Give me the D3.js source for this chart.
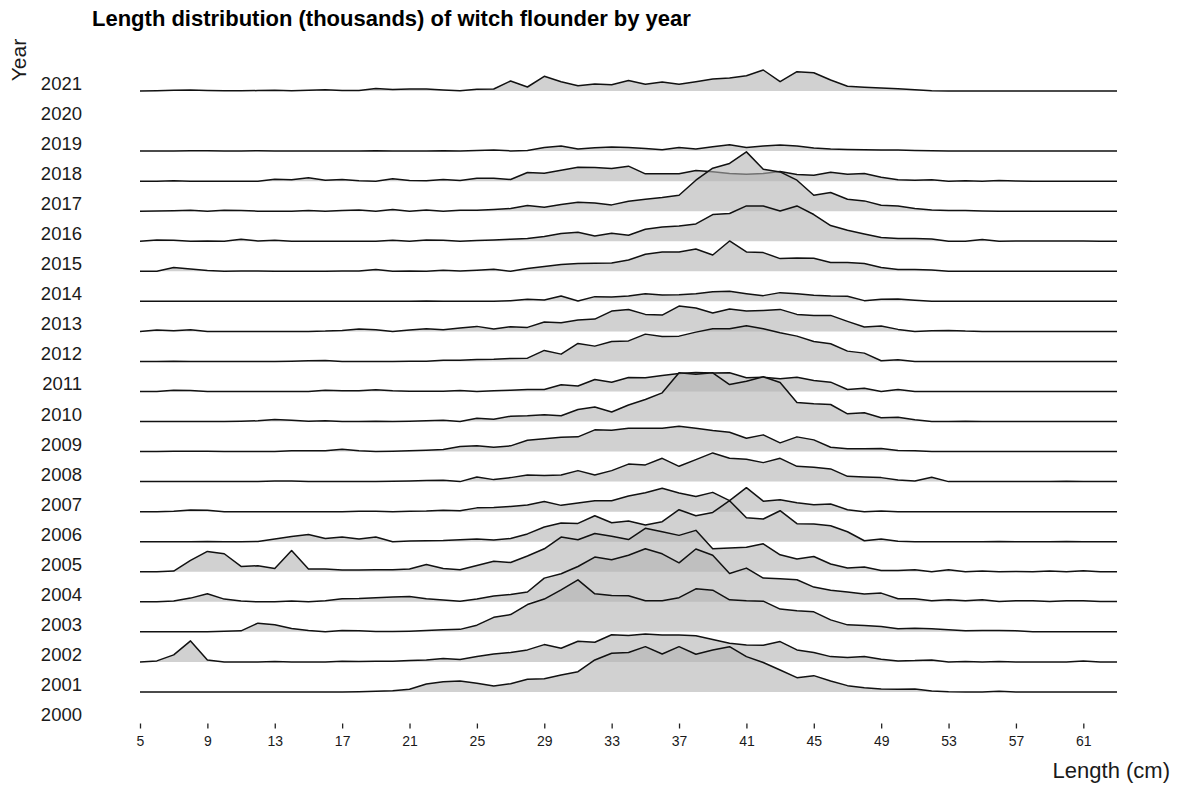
<!DOCTYPE html>
<html>
<head>
<meta charset="utf-8">
<script src="https://cdn.jsdelivr.net/npm/d3@7"></script>
<style>
    body { margin: 0; background: #fff; }
    #ridge-area { width: 1177px; height: 787px; }
    text { font-family: "Liberation Sans", Arial, sans-serif; }
</style>
</head>
<body>
<div id="ridge-area"></div>
<script>
// length classes (cm)
const lengthCm = [5, 6, 7, 8, 9, 10, 11, 12, 13, 14, 15, 16, 17, 18, 19, 20, 21, 22, 23, 24,
    25, 26, 27, 28, 29, 30, 31, 32, 33, 34, 35, 36, 37, 38, 39, 40, 41, 42, 43, 44,
    45, 46, 47, 48, 49, 50, 51, 52, 53, 54, 55, 56, 57, 58, 59, 60, 61, 62, 63];

const yearLabels = [2000, 2001, 2002, 2003, 2004, 2005, 2006, 2007, 2008, 2009, 2010,
    2011, 2012, 2013, 2014, 2015, 2016, 2017, 2018, 2019, 2020, 2021];

const xTicks = [5, 9, 13, 17, 21, 25, 29, 33, 37, 41, 45, 49, 53, 57, 61];

// numbers at length (thousands), one array per survey year, 5..63 cm
// (no data in 2000 and 2020)
const len2021 = [0, 0.3, 0.7, 1, 0.5, 0.2, 0.2, 0.4, 0.7, 0.3,
    0.7, 1.3, 0.5, 0.6, 2.5, 1.5, 2, 2, 1, 0.3,
    1.7, 2, 10, 4, 14.7, 9.3, 5.3, 7, 6.3, 10.5,
    6.7, 9, 6.7, 9.3, 12, 13, 15.3, 21, 9.3, 19.3,
    18.3, 11, 4.7, 3.7, 3, 2.3, 1.3, 0.3, 0, 0,
    0, 0, 0, 0, 0, 0, 0, 0, 0];
const len2019 = [0, 0, 0.2, 0.3, 0.3, 0, 0.2, 0.3, 0, 0,
    0.2, 0, 0.2, 0, 0.3, 0, 0, 0.2, 0.3, 0,
    0.5, 1, 0.2, 0.7, 3.7, 5, 2, 3.3, 4, 3.7,
    2.7, 1.3, 3.7, 2, 4.3, 6.3, 3.7, 5, 6, 5,
    3, 2, 1.7, 1.3, 1, 1, 0.7, 0.3, 0, 0,
    0, 0, 0, 0, 0, 0, 0, 0, 0];
const len2018 = [0, 0, 0.3, 0, 0, 0, 0, 0, 2, 1.3,
    3.3, 1, 1.7, 0.3, 0, 2.3, 0.7, 0.3, 1.7, 0.7,
    3, 3, 1.7, 8.7, 8, 11, 14, 13.7, 12.7, 15,
    7.3, 7.3, 7.3, 10.7, 9.3, 7.7, 7, 7.7, 9.7, 6.7,
    6, 9, 7, 7.7, 4, 1.3, 1, 1.3, 0, 0.3,
    0, 0.7, 0.2, 0, 0, 0, 0, 0, 0];
const len2017 = [0, 0.3, 0.5, 1, 0, 1, 0.7, 0, 0, 0,
    0.7, 0, 0.7, 1.3, 0, 1.7, 0, 1.3, 0, 1,
    1, 1.7, 2.7, 5.7, 4, 6.7, 9, 8.3, 6.3, 10,
    12, 13.7, 16, 31, 43, 47.7, 59.3, 42, 39.3, 31,
    16, 18.7, 12, 10.3, 6, 5.3, 2.7, 1.3, 0.7, 0.7,
    0.3, 0, 0, 0, 0, 0, 0, 0, 0];
const len2016 = [0, 1.3, 1, 0, 0.3, 0, 2, 0.3, 1, 0,
    0, 0, 0, 0, 0, 1, 0, 1.3, 1, 0,
    0.7, 1.3, 2, 2.7, 4.7, 7.7, 9, 5.3, 8, 6,
    12, 14.3, 15.3, 17.3, 26.7, 27.7, 35.3, 35.3, 30.3, 35.3,
    26.7, 15.7, 11, 7.3, 3.7, 2.7, 2.7, 2.3, 0, 0,
    1.7, 0, 0.3, 0.3, 0.3, 0.3, 0.3, 0, 0];
const len2015 = [0, 0, 3.7, 2.3, 0.7, 0, 0.3, 0.3, 0, 0,
    0, 0, 0.3, 0.3, 1.7, 0, 0.3, 0, 1, 0.3,
    1, 2, 0, 2.7, 4.7, 6.7, 7.7, 8, 8.3, 11.3,
    17, 19.3, 19.3, 22.3, 16.3, 30.3, 19.3, 18.7, 12.7, 13.3,
    13, 8.7, 8.7, 7.7, 3.7, 1.7, 1.7, 1.3, 0, 0,
    0, 0, 0, 0, 0, 0, 0, 0, 0];
const len2014 = [0, 0, 0, 0, 0, 0, 0, 0, 0, 0,
    0, 0, 0, 0, 0, 0, 0, 0.3, 0, 0,
    0, 0, 0.7, 2, 1.3, 5.3, 0.3, 4.7, 4.3, 5.3,
    7.7, 6.3, 6.7, 7.7, 9.7, 10, 7.7, 5.7, 8.7, 7.7,
    6, 5.3, 5, 0.7, 2, 2.3, 1, 0, 0, 0,
    0, 0, 0, 0, 0, 0, 0, 0, 0];
const len2013 = [0, 1.3, 0.7, 1.7, 0, 0, 0, 0, 0, 0,
    0, 0.3, 1, 2.3, 1.7, 0, 1.3, 2.7, 1.7, 3.3,
    5, 2.3, 4.7, 4, 9.3, 8.7, 11.3, 12.3, 20.3, 21.8,
    17, 16.3, 25.3, 23.3, 18.3, 22.3, 20.3, 21, 22, 17,
    16, 16, 10, 4.3, 5.3, 2, 0, 0.7, 1, 0.3,
    0, 0, 0, 0, 0, 0, 0, 0, 0];
const len2012 = [0, 0, 0.3, 0, 0, 0, 0, 0, 0, 0.3,
    0.7, 1, 0, 0, 0, 0, 0.3, 0.3, 1.3, 1.3,
    2, 2.3, 3, 3.3, 11, 7.3, 18, 15.3, 20, 20.5,
    27.3, 25, 25.3, 29.3, 32.7, 32.7, 35.7, 32.7, 28.7, 25.3,
    20, 17.7, 10.3, 8.3, 0.7, 1.7, 0, 0, 0, 0,
    0, 0, 0, 0, 0, 0, 0, 0, 0];
const len2011 = [0, 0, 1.3, 1, 0, 0, 0, 0, 0, 0,
    0, 1.3, 0.7, 0.7, 1.7, 0.7, 0.3, 0.3, 0.3, 1,
    0, 0.7, 1.3, 2, 2, 6.7, 5.5, 12, 9.3, 14,
    13.7, 16, 18, 19, 18.5, 18.7, 13.7, 14.3, 12.7, 14.3,
    11, 9.3, 2, 3.3, 0, 2, 0, 0, 0, 0,
    0, 0, 0, 0, 0, 0, 0, 0, 0];
const len2010 = [0, 0, 0, 0, 0, 0, 0.3, 0.7, 2, 1.3,
    0.3, 0.7, 0, 0, 0.3, 0, 0.3, 0.7, 1.3, 0,
    3.3, 2.3, 5.3, 5.7, 6.7, 5.7, 12, 14.5, 9.5, 16.5,
    22, 28.7, 48.7, 47.3, 48.7, 37, 40.3, 44.7, 39, 19,
    17.7, 17, 7.7, 8.7, 3.7, 4.3, 1.7, 0, 0, 0.3,
    0, 0, 0, 0, 0, 0, 0, 0, 0];
const len2009 = [0, 0, 0.2, 0.3, 0.3, 0, 0, 0, 0, 0.7,
    0.7, 0.7, 2.3, 0.7, 0, 0.2, 0.7, 1.3, 2, 5,
    5.7, 4.3, 5.7, 11.3, 12.7, 14.3, 14.7, 21.7, 21.3, 23.3,
    23.3, 23.3, 25.3, 23.3, 21, 19.3, 13.3, 16.7, 8.7, 14.7,
    11.7, 4.3, 2.7, 2.7, 3, 1, 0.7, 0, 0, 0,
    0, 0, 0, 0, 0, 0, 0, 0, 0];
const len2008 = [0, 0, 0, 0, 0, 0, 0, 0, 0.7, 0.7,
    0, 0, 0, 0, 0, 0.3, 0.7, 1, 1.3, 0,
    4.7, 2, 4, 6.7, 6, 6.7, 11, 6.7, 11, 17.5,
    16.7, 23.3, 15.3, 22, 28.7, 23.3, 22.3, 19, 23.3, 15.3,
    14.3, 12.7, 5.3, 4.7, 4, 1.7, 0.7, 4.3, 0, 0,
    0, 0, 0, 0, 0, 0.3, 0, 0, 0];
const len2007 = [0, 0, 0.3, 1.7, 1.3, 0, 0, 0, 0, 0,
    0, 0, 0, 0.3, 0.3, 0, 0.3, 0.7, 1.5, 1,
    3.8, 4.2, 5.2, 6.7, 10.2, 6.3, 8.7, 11, 11, 15.7,
    19, 23.5, 18.7, 15.2, 19.3, 11, 24, 10.5, 12, 9,
    6.8, 7.7, 2, 0, 0.7, 0, 0, 0, 0, 0,
    0, 0, 0, 0, 0, 0, 0, 0, 0];
const len2006 = [0, 0, 0, 0, 0.3, 0, 0, 0.3, 2.7, 5.3,
    7.3, 3.3, 4.7, 2.7, 4.7, 0, 0.7, 1, 1.2, 2,
    2.7, 1.7, 3.2, 7.8, 14.7, 18.7, 18.3, 26, 19, 20.8,
    16.7, 20, 32, 26, 29.3, 41, 24, 22.7, 31, 18,
    17.7, 16, 10, 1, 2.7, 0.5, 0, 0, 0, 0,
    0, 0.3, 0, 0, 0, 0.3, 0, 0, 0];
const len2005 = [0, 0, 0.7, 11.3, 20.3, 18, 5.3, 6, 3.3, 21.3,
    2.7, 2.7, 1.7, 1.7, 2, 2, 2.7, 7.3, 3.2, 2,
    6.2, 10.5, 9.2, 15.8, 23, 34.7, 32, 38.3, 35.6, 32.2,
    43.5, 40, 36.4, 41.4, 23, 23.7, 24.5, 28, 17, 12.7,
    15.3, 7.8, 3.7, 4.7, 1.3, 1.3, 2, 0, 2, 0,
    0.7, 0, 0.3, 0, 0.7, 0, 1, 0, 0];
const len2004 = [0, 0, 0.7, 3.7, 8, 2.7, 0.7, 0, 0, 0.7,
    0, 1, 3, 3.3, 4, 4.7, 5.3, 3, 1.8, 0.5,
    2.8, 5.8, 7.3, 9.8, 23.7, 28, 35.3, 44.7, 42, 46.5,
    53, 48, 39, 52.8, 46.5, 28.3, 33.7, 23.7, 23, 22,
    14.7, 11.6, 9.7, 7.7, 8.7, 3, 3, 1, 2, 1,
    2, 0.3, 1, 1, 0.3, 1, 1, 0.3, 0.3];
const len2003 = [0, 0, 0, 0, 0, 0.5, 1, 8.7, 7, 3.3,
    1.3, 0, 1.3, 1, 0.3, 0.3, 0.7, 1.3, 2, 2.5,
    6.7, 14.5, 17.3, 27.3, 32.8, 42, 52, 38, 36.3, 36.2,
    31.2, 31, 34.2, 43, 41.7, 32, 31, 30.7, 22.8, 21,
    20, 12, 7, 6.3, 5.3, 3, 3.7, 3, 2, 1,
    1.3, 1.3, 1, 0, 0, 0, 0, 0, 0];
const len2002 = [0, 1, 7, 21, 2, 0, 0, 0, 0.3, 0,
    0, 0, 0.7, 0.3, 0.7, 0.7, 1.3, 2, 3.3, 2.3,
    5.3, 7.8, 9.5, 12, 17.3, 13.7, 20.7, 19.7, 27.2, 26.5,
    28, 27, 26.8, 26.2, 22.5, 18.7, 17, 16.7, 20.3, 12,
    9.5, 5.3, 4.3, 5.3, 2.7, 1, 1.3, 2, 0, 0.3,
    0, 0.3, 0, 0, 0, 0, 1, 0, 0];
const len2001 = [0, 0, 0, 0, 0, 0, 0, 0, 0, 0,
    0, 0, 0, 0.3, 0.7, 1.3, 2.7, 8, 10.3, 11,
    8.7, 6, 8.3, 12.8, 13.3, 17, 20.3, 32, 38.7, 39.5,
    45.3, 38, 45.3, 37.7, 42, 45.3, 35.3, 29.5, 22, 14.3,
    16.3, 11, 6.3, 4.3, 3, 2.7, 3, 1, 0.3, 0,
    0, 0.7, 0, 0, 0, 0, 0, 0, 0];

const seriesByYear = {
    2001: len2001, 2002: len2002, 2003: len2003, 2004: len2004, 2005: len2005,
    2006: len2006, 2007: len2007, 2008: len2008, 2009: len2009, 2010: len2010,
    2011: len2011, 2012: len2012, 2013: len2013, 2014: len2014, 2015: len2015,
    2016: len2016, 2017: len2017, 2018: len2018, 2019: len2019, 2021: len2021
};


/* * * * * * * * * * * * * *
*      class RidgeVis         *
* * * * * * * * * * * * * */

class RidgeVis {
    constructor(parentElement, years, lengths, series){
        this.parentElement = parentElement;
        this.years = years;
        this.lengths = lengths;
        this.series = series;

        this.initVis();
    }

    initVis(){
        let vis = this;

        vis.margin = {top: 91, right: 60, bottom: 65, left: 140};
        vis.width = 1177 - vis.margin.left - vis.margin.right;
        vis.height = 787 - vis.margin.top - vis.margin.bottom;

        vis.root = d3.select("#" + vis.parentElement).append("svg")
            .attr("width", 1177)
            .attr("height", 787);

        vis.svg = vis.root.append("g")
            .attr("transform", `translate (${vis.margin.left}, ${vis.margin.top})`);

        // title
        vis.root.append("text")
            .attr("x", 92)
            .attr("y", 26)
            .attr("font-size", 22)
            .attr("font-weight", "bold")
            .attr("fill", "#000")
            .text("Length distribution (thousands) of witch flounder by year");

        // scales
        vis.x = d3.scaleLinear()
            .domain([5, 63])
            .range([0, vis.width]);

        vis.y = d3.scalePoint()
            .domain(vis.years)
            .range([vis.height, 0]);

        // ridge height in px, same for every year
        vis.h = d3.scaleLinear()
            .domain([0, 60])
            .range([0, 60]);

        // year labels sit on each baseline
        vis.svg.append("g")
            .attr("class", "y-labels")
            .selectAll("text")
            .data(vis.years)
            .enter()
            .append("text")
            .attr("x", -58)
            .attr("y", d => vis.y(d) - 1)
            .attr("text-anchor", "end")
            .attr("font-size", 18.5)
            .attr("fill", "#1a1a1a")
            .text(d => d);

        vis.root.append("text")
            .attr("transform", "translate(26, 60) rotate(-90)")
            .attr("text-anchor", "middle")
            .attr("font-size", 21)
            .attr("fill", "#1a1a1a")
            .text("Year");

        vis.root.append("text")
            .attr("x", 1170)
            .attr("y", 778)
            .attr("text-anchor", "end")
            .attr("font-size", 22)
            .attr("fill", "#1a1a1a")
            .text("Length (cm)");

        // x axis
        vis.xAxis = d3.axisBottom(vis.x)
            .tickValues(xTicks)
            .tickSize(5)
            .tickPadding(8);

        vis.xAxisGroup = vis.svg.append("g")
            .attr("class", "x-axis")
            .attr("transform", `translate(0, ${vis.height + 1.5})`)
            .call(vis.xAxis);
        vis.xAxisGroup.select(".domain").remove();
        vis.xAxisGroup.selectAll("line").attr("stroke", "#222").attr("stroke-width", 1.3);
        vis.xAxisGroup.selectAll("text")
            .attr("font-size", 14)
            .attr("fill", "#1a1a1a")
            .style("font-family", '"Liberation Sans", Arial, sans-serif');

        vis.wrangleData();
    }

    wrangleData(){
        let vis = this;

        // top year first so the lower ridges are drawn over it
        vis.ridgeData = vis.years
            .filter(yr => vis.series[yr])
            .sort((a, b) => b - a)
            .map(yr => ({
                year: yr,
                values: vis.lengths.map((len, i) => ({len: len, val: vis.series[yr][i]}))
            }));

        vis.updateVis();
    }

    updateVis(){
        let vis = this;

        vis.ridges = vis.svg.selectAll(".ridge")
            .data(vis.ridgeData, d => d.year)
            .enter()
            .append("g")
            .attr("class", "ridge");

        vis.ridges.append("path")
            .attr("class", "ridge-fill")
            .attr("fill", "#b3b3b3")
            .attr("fill-opacity", 0.6)
            .attr("stroke", "none")
            .attr("d", d => d3.area()
                .x(p => vis.x(p.len))
                .y0(vis.y(d.year))
                .y1(p => vis.y(d.year) - vis.h(p.val))(d.values));

        vis.ridges.append("path")
            .attr("class", "ridge-line")
            .attr("fill", "none")
            .attr("stroke", "#111")
            .attr("stroke-width", 1.5)
            .attr("stroke-linejoin", "round")
            .attr("d", d => d3.line()
                .x(p => vis.x(p.len))
                .y(p => vis.y(d.year) - vis.h(p.val))(d.values));
    }
}

new RidgeVis("ridge-area", yearLabels, lengthCm, seriesByYear);
</script>
</body>
</html>
